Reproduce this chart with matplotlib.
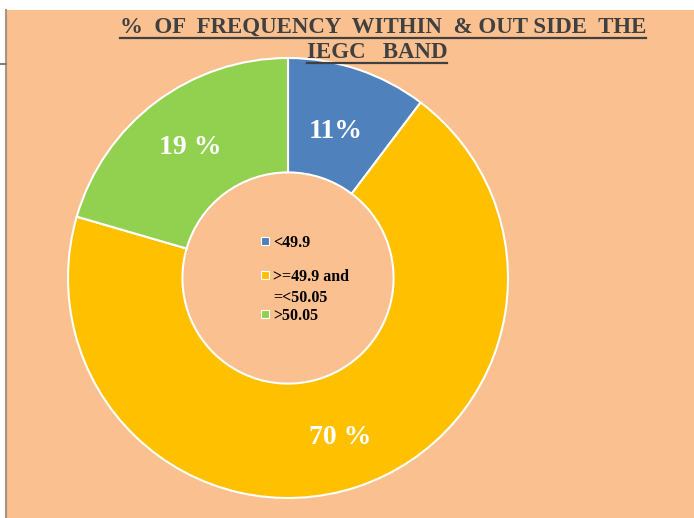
import matplotlib.pyplot as plt
import matplotlib.patches as pat

# --- data ---
categories = ["<49.9", ">=49.9 and\n=<50.05", ">50.05"]
shares = [10.3, 69.2, 20.5]
slice_labels = ["11%", "70 %", "19 %"]
colors = ["#4F81BD", "#FFC000", "#92D050"]
title_lines = ["%  OF  FREQUENCY  WITHIN  & OUT SIDE  THE", "IEGC   BAND"]

W, H = 694, 518
bg = "#FAC090"
serif = ["Liberation Serif", "DejaVu Serif"]

fig = plt.figure(figsize=(W / 100, H / 100), dpi=100, facecolor="white")
ax = fig.add_axes([0, 0, 1, 1])

# peach chart area with frame bits at the left
ax.add_patch(pat.Rectangle((6, 0), W - 6, H - 10, facecolor=bg, edgecolor="none", zorder=0))
ax.plot([6.5, 6.5], [0, H - 10], color="#A89580", lw=1.5, zorder=1)
ax.plot([0, 6], [H - 64, H - 64], color="#808080", lw=1.5, zorder=1)

# donut
cx, cy, r = 288, H - 278, 220
wedges, _ = ax.pie(shares, colors=colors, startangle=90, counterclock=False,
                   center=(cx, cy), radius=r, frame=True,
                   wedgeprops=dict(width=r * 0.52, edgecolor="white", linewidth=1.5))
ax.set_xlim(0, W)
ax.set_ylim(0, H)
ax.set_aspect("equal")
ax.axis("off")

# slice labels
label_pos = [(336, 131), (340, 437), (190, 148)]
for (x, y), t in zip(label_pos, slice_labels):
    ax.text(x, H - y, t, color="white", fontsize=20, fontweight="bold",
            family=serif, ha="center", va="center")

# legend in the hole
leg_y = [241, 275, 314]
for y, c, lab in zip(leg_y, colors, categories):
    ax.add_patch(pat.Rectangle((261, H - y - 4), 8, 8, facecolor=c,
                               edgecolor="white", lw=0.8, zorder=3))
    ax.text(273, H - y + 6, lab, fontsize=11.5, fontweight="bold", family=serif,
            ha="left", va="top", linespacing=1.4, color="black")

# title with underline
title_pos = [(383, 27), (377, 52)]
texts = []
for (x, y), t in zip(title_pos, title_lines):
    texts.append(ax.text(x, H - y, t, fontsize=16.5, fontweight="bold", family=serif,
                         ha="center", va="center", color="#404040"))
fig.canvas.draw()
rend = fig.canvas.get_renderer()
for t in texts:
    bb = t.get_window_extent(rend).transformed(ax.transData.inverted())
    ax.plot([bb.x0, bb.x1], [bb.y0, bb.y0], color="#404040", lw=1.6)

plt.savefig("out.png", dpi=100, facecolor="white")
